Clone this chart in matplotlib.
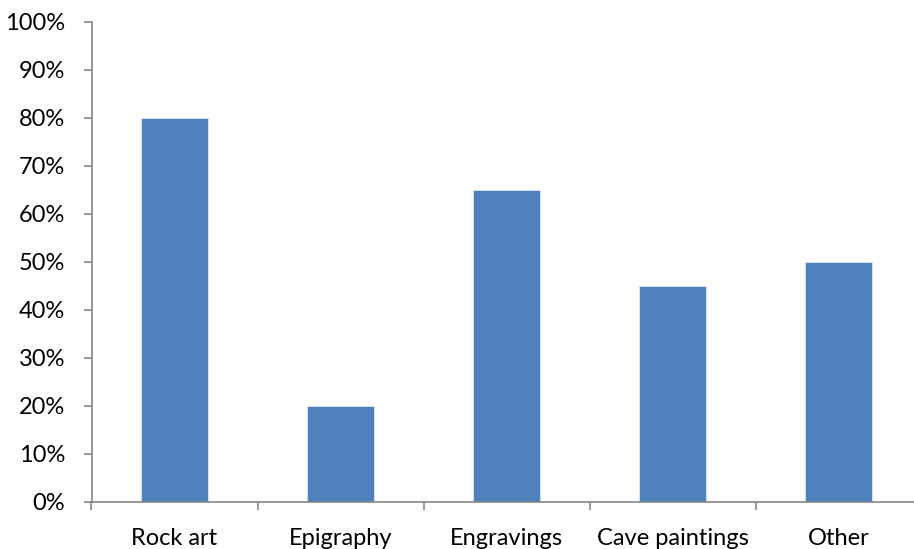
import matplotlib
matplotlib.use("Agg")
import matplotlib.pyplot as plt
from matplotlib.ticker import FixedLocator, PercentFormatter

categories = ["Rock art", "Epigraphy", "Engravings", "Cave paintings", "Other"]
values = [80, 20, 65, 45, 50]
yticks = [0, 10, 20, 30, 40, 50, 60, 70, 80, 90, 100]

plt.rcParams['font.family'] = ['Lato', 'DejaVu Sans']

fig = plt.figure(figsize=(9.14, 5.49), dpi=100)
ax = fig.add_axes([91.5 / 914, 1 - 502 / 549, 830 / 914, 480 / 549])

x = list(range(len(categories)))
ax.bar(x, values, width=0.4, color="#4F81BD", edgecolor="#DCE6F2", linewidth=0.6, zorder=2)

ax.set_xlim(-0.5, len(categories) - 0.5)
ax.set_ylim(0, 100)
ax.set_yticks(yticks)
ax.yaxis.set_major_formatter(PercentFormatter(decimals=0))

# category labels centred under bars, tick marks on category boundaries
ax.set_xticks(x)
ax.set_xticklabels(categories)
ax.tick_params(axis="x", which="major", length=0, pad=18.5, labelsize=17)
ax.xaxis.set_minor_locator(FixedLocator([i - 0.5 for i in range(len(categories) + 1)]))
ax.tick_params(axis="x", which="minor", length=6, width=1.2, color="#868686", direction="out")
ax.tick_params(axis="y", length=6, width=1.2, color="#868686", labelsize=17, pad=13)

for side in ("top", "right"):
    ax.spines[side].set_visible(False)
for side in ("left", "bottom"):
    ax.spines[side].set_color("#868686")
    ax.spines[side].set_linewidth(1.2)

fig.savefig("out.png", dpi=100)
